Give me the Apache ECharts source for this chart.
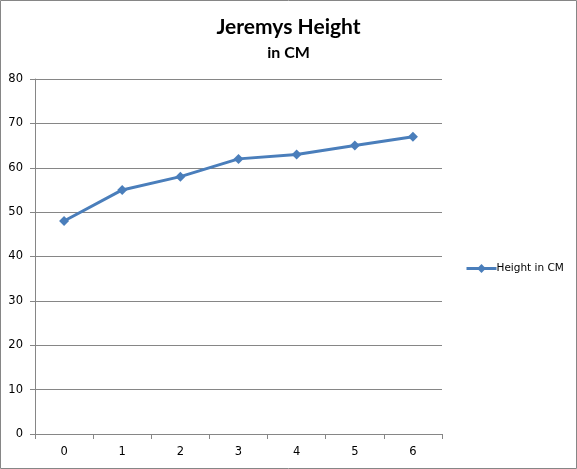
<!DOCTYPE html>
<html><head><meta charset="utf-8">
<script src="https://cdn.jsdelivr.net/npm/echarts@6/dist/echarts.min.js"></script>
<style>html,body{margin:0;padding:0;background:#fff}#c{width:577px;height:469px}</style>
</head><body><div id="c"></div>
<script>
const categories = ['0','1','2','3','4','5','6'];
const heights = [48, 55, 58, 62, 63, 65, 67];
const seriesName = 'Height in CM';
const titleText = 'Jeremys Height';
const subText = 'in CM';

const chart = echarts.init(document.getElementById('c'), null, {renderer:'canvas'});
const gray = '#868686';
chart.setOption({
  animation:false,
  backgroundColor:'#fff',
  graphic:[{type:'rect',shape:{x:0.5,y:0.5,width:576,height:468},style:{fill:'none',stroke:gray,lineWidth:1}}],
  title:{text:titleText,subtext:subText,left:'center',top:12,itemGap:7,
    textStyle:{fontFamily:'Lato',fontWeight:'bold',fontSize:21,color:'#000'},
    subtextStyle:{fontFamily:'Lato',fontWeight:'bold',fontSize:16,color:'#000'}},
  legend:{orient:'vertical',left:460,top:258,itemWidth:30,itemHeight:11,itemGap:4,
    data:[{name:seriesName}],
    lineStyle:{width:3,color:'#4a7ebb'},
    textStyle:{fontFamily:'DejaVu Sans',fontSize:10.5,color:'#000',padding:[0,0,0,-5]}},
  grid:{left:35,right:135,top:79,bottom:35,containLabel:false},
  xAxis:{type:'category',data:categories,boundaryGap:true,
    axisLine:{lineStyle:{color:gray}},
    axisTick:{show:true,length:5,inside:false,alignWithLabel:false,lineStyle:{color:gray}},
    axisLabel:{fontFamily:'DejaVu Sans',fontSize:11.5,color:'#000',margin:12},
    splitLine:{show:false}},
  yAxis:{type:'value',min:0,max:80,interval:10,
    axisLine:{show:true,lineStyle:{color:gray}},
    axisTick:{show:true,length:5,lineStyle:{color:gray}},
    axisLabel:{fontFamily:'DejaVu Sans',fontSize:11.5,color:'#000',margin:12},
    splitLine:{show:true,lineStyle:{color:gray,width:1}}},
  series:[{name:seriesName,type:'line',data:heights,
    symbol:'diamond',symbolSize:10,
    lineStyle:{color:'#4a7ebb',width:3},
    itemStyle:{color:'#4a7ebb'}}]
});
</script></body></html>
